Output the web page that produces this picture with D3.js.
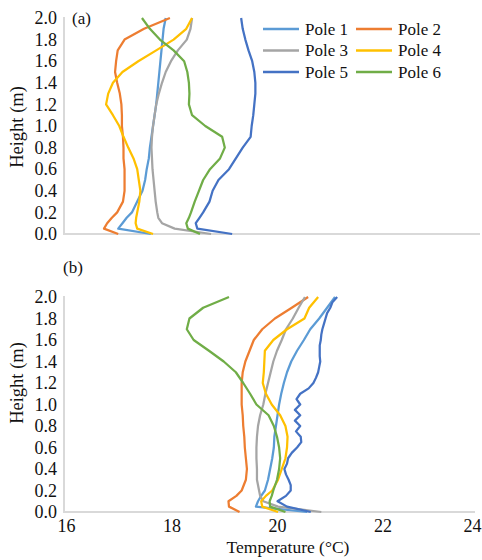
<!DOCTYPE html>
<html lang="en">
    <head>
        <meta charset="utf-8">
        <title>Pole temperature profiles</title>
        <script src="https://d3js.org/d3.v7.min.js"></script>
        <style>
            body { margin: 0; background: #fff; }
            svg text { font-family: "Liberation Serif", "Times New Roman", serif !important; fill: #111; }
        </style>
    </head>

    <body>
        <div id="chart"></div>

        <script>

            // heights (m) shared by most profiles
            var heights = [0, 0.05, 0.1, 0.15, 0.2, 0.3, 0.4, 0.5, 0.6, 0.7, 0.8, 0.9, 1.0,
                           1.1, 1.2, 1.3, 1.4, 1.5, 1.6, 1.7, 1.8, 1.9, 2.0];
            // finer grid for pole 5 in (b), it wiggles a lot
            var heightsFine = [0, 0.05, 0.1, 0.15, 0.2, 0.25, 0.3, 0.35, 0.4, 0.45, 0.5, 0.55, 0.6, 0.65,
                               0.7, 0.75, 0.8, 0.85, 0.9, 0.95, 1.0, 1.05, 1.1, 1.15, 1.2, 1.25, 1.3, 1.35,
                               1.4, 1.45, 1.5, 1.55, 1.6, 1.65, 1.7, 1.75, 1.8, 1.85, 1.9, 1.95, 2.0];

            var poleNames = ["Pole 1", "Pole 2", "Pole 3", "Pole 4", "Pole 5", "Pole 6"];
            var poleColors = ["#5B9BD5", "#ED7D31", "#A5A5A5", "#FFC000", "#4472C4", "#70AD47"];

            var xTicks = [16, 18, 20, 22, 24];
            var yTicks = [0, 0.2, 0.4, 0.6, 0.8, 1.0, 1.2, 1.4, 1.6, 1.8, 2.0];

            // panel (a) temperatures (°C)
            var pole1A = [17.61, 16.99, 17.07, 17.15, 17.25, 17.35, 17.45, 17.50, 17.53, 17.57, 17.59, 17.62, 17.65,
                          17.68, 17.71, 17.73, 17.75, 17.77, 17.79, 17.81, 17.83, 17.85, 17.89];
            var pole2A = [16.99, 16.72, 16.78, 16.87, 16.97, 17.08, 17.11, 17.11, 17.11, 17.09, 17.09, 17.08, 17.06,
                          17.06, 17.05, 17.02, 16.97, 16.93, 16.95, 16.98, 17.11, 17.48, 17.97];
            var pole3A = [18.75, 18.06, 17.82, 17.75, 17.73, 17.70, 17.68, 17.66, 17.64, 17.63, 17.62, 17.63, 17.65,
                          17.68, 17.71, 17.76, 17.82, 17.89, 17.99, 18.12, 18.29, 18.36, 18.39];
            var pole4A = [17.65, 17.35, 17.32, 17.33, 17.35, 17.39, 17.41, 17.38, 17.35, 17.28, 17.18, 17.09, 17.01,
                          16.89, 16.76, 16.80, 16.89, 17.07, 17.37, 17.71, 18.04, 18.28, 18.39];
            var pole5A = [19.15, 18.49, 18.46, 18.53, 18.60, 18.72, 18.78, 18.89, 19.09, 19.22, 19.35, 19.50, 19.52,
                          19.55, 19.57, 19.59, 19.59, 19.57, 19.53, 19.46, 19.40, 19.35, 19.32];
            var pole6A = [18.54, 18.31, 18.28, 18.33, 18.37, 18.44, 18.52, 18.60, 18.73, 18.92, 19.01, 18.96, 18.64,
                          18.39, 18.33, 18.34, 18.33, 18.30, 18.24, 18.04, 17.78, 17.59, 17.44];

            // panel (b) temperatures (°C)
            var pole1B = [20.57, 19.60, 19.64, 19.70, 19.77, 19.83, 19.87, 19.91, 19.94, 19.95, 19.98, 20.01, 20.04,
                          20.08, 20.13, 20.19, 20.27, 20.38, 20.51, 20.63, 20.80, 20.95, 21.10];
            var pole2B = [19.29, 19.09, 19.08, 19.23, 19.33, 19.41, 19.43, 19.41, 19.39, 19.38, 19.36, 19.35, 19.33,
                          19.33, 19.33, 19.35, 19.40, 19.48, 19.56, 19.72, 19.96, 20.28, 20.59];
            var pole3B = [20.84, 20.02, 19.74, 19.68, 19.66, 19.62, 19.62, 19.61, 19.61, 19.62, 19.64, 19.68, 19.74,
                          19.78, 19.83, 19.88, 19.93, 20.00, 20.09, 20.17, 20.30, 20.41, 20.53];
            var pole4B = [20.02, 19.72, 19.70, 19.79, 19.91, 20.02, 20.09, 20.16, 20.19, 20.20, 20.16, 20.06, 19.90,
                          19.79, 19.73, 19.75, 19.76, 19.77, 19.93, 20.19, 20.52, 20.61, 20.78];
            var pole5B = [20.64, 20.19, 20.01, 20.17, 20.26, 20.26, 20.22, 20.17, 20.14, 20.19, 20.21, 20.28, 20.38, 20.46,
                          20.45, 20.36, 20.44, 20.34, 20.44, 20.34, 20.44, 20.37, 20.44, 20.60, 20.69, 20.74, 20.78, 20.80,
                          20.82, 20.81, 20.81, 20.81, 20.83, 20.84, 20.86, 20.89, 20.92, 20.95, 21.01, 21.05, 21.14];
            var pole6B = [20.16, 19.87, 19.86, 19.90, 19.93, 20.00, 20.04, 20.06, 20.04, 20.00, 19.94, 19.84, 19.61,
                          19.49, 19.36, 19.22, 18.99, 18.71, 18.42, 18.29, 18.34, 18.60, 19.09];

            var width = 482;
            var height = 560;

            var svg = d3.select("#chart")
                        .append("svg")
                        .attr("width", width)
                        .attr("height", height);

            // the original figure is cut off on the right, so 24 falls past the edge
            var x = d3.scaleLinear().domain([16, 24]).range([66, 488]);
            var yA = d3.scaleLinear().domain([0, 2]).range([234, 18]);
            var yB = d3.scaleLinear().domain([0, 2]).range([512, 297]);

            var seriesA = [pole1A, pole2A, pole3A, pole4A, pole5A, pole6A].map(function(v){ return {h: heights, t: v}; });
            var seriesB = [
                {h: heights, t: pole1B}, {h: heights, t: pole2B}, {h: heights, t: pole3B},
                {h: heights, t: pole4B}, {h: heightsFine, t: pole5B}, {h: heights, t: pole6B}
            ];

            function drawPanel(y, series, axisRight, showX){
                var g = svg.append("g");

                // y tick labels, no tick marks
                var yAxis = g.append("g")
                    .attr("transform", "translate(" + (x(16) - 1) + ",0)")
                    .call(d3.axisLeft(y).tickValues(yTicks).tickSize(0).tickPadding(8).tickFormat(d3.format(".1f")));
                yAxis.attr("font-family", null).attr("font-size", null);
                yAxis.select(".domain").remove();
                yAxis.selectAll("text").style("font-size", "18px");

                if (showX) {
                    var xAxis = g.append("g")
                        .attr("transform", "translate(0," + y(0) + ")")
                        .call(d3.axisBottom(x).tickValues(xTicks).tickSize(0).tickPadding(7));
                    xAxis.attr("font-family", null).attr("font-size", null);
                    xAxis.select(".domain").remove();
                    xAxis.selectAll("text").style("font-size", "18px");
                    // last label pulled inside the frame, the way Excel does it
                    xAxis.selectAll("text").filter(function(d){ return d === 24; }).attr("x", -16);
                }

                // axis lines
                g.append("line")
                    .attr("x1", x(16) - 2).attr("x2", x(16) - 2)
                    .attr("y1", y(2) - 1).attr("y2", y(0) + 1)
                    .attr("stroke", "#D9D9D9").attr("stroke-width", 2);
                g.append("line")
                    .attr("x1", x(16) - 2).attr("x2", axisRight)
                    .attr("y1", y(0)).attr("y2", y(0))
                    .attr("stroke", "#D9D9D9").attr("stroke-width", 2);

                var line = d3.line()
                    .x(function(d){ return x(d[0]); })
                    .y(function(d){ return y(d[1]); });

                series.forEach(function(s, i){
                    var pts = s.t.map(function(t, k){ return [t, s.h[k]]; });
                    g.append("path")
                        .datum(pts)
                        .attr("d", line)
                        .attr("fill", "none")
                        .attr("stroke", poleColors[i])
                        .attr("stroke-width", 2.25)
                        .attr("stroke-linejoin", "round");
                });

                return g;
            }

            drawPanel(yA, seriesA, 480, false);
            drawPanel(yB, seriesB, 475, true);

            // axis titles
            svg.append("text")
                .attr("transform", "translate(23,127) rotate(-90)")
                .attr("text-anchor", "middle")
                .style("font-size", "18.5px")
                .text("Height (m)");
            svg.append("text")
                .attr("transform", "translate(23,383) rotate(-90)")
                .attr("text-anchor", "middle")
                .style("font-size", "18.5px")
                .text("Height (m)");

            svg.append("text")
                .attr("x", 288).attr("y", 553)
                .attr("text-anchor", "middle")
                .style("font-size", "17.5px")
                .text("Temperature (°C)");

            svg.append("text").attr("x", 72).attr("y", 24).style("font-size", "17px").text("(a)");
            svg.append("text").attr("x", 63).attr("y", 273).style("font-size", "17px").text("(b)");

            // legend, 2 columns x 3 rows
            var legend = svg.append("g");
            poleNames.forEach(function(name, i){
                var col = i % 2, row = Math.floor(i / 2);
                var lx = col === 0 ? 263 : 356;
                var ly = 29 + row * 21.5;
                legend.append("line")
                    .attr("x1", lx).attr("x2", lx + 36)
                    .attr("y1", ly).attr("y2", ly)
                    .attr("stroke", poleColors[i])
                    .attr("stroke-width", 2.5);
                legend.append("text")
                    .attr("x", lx + 42).attr("y", ly)
                    .attr("dy", "0.35em")
                    .style("font-size", "17px")
                    .text(name);
            });

        </script>
    </body>
</html>
